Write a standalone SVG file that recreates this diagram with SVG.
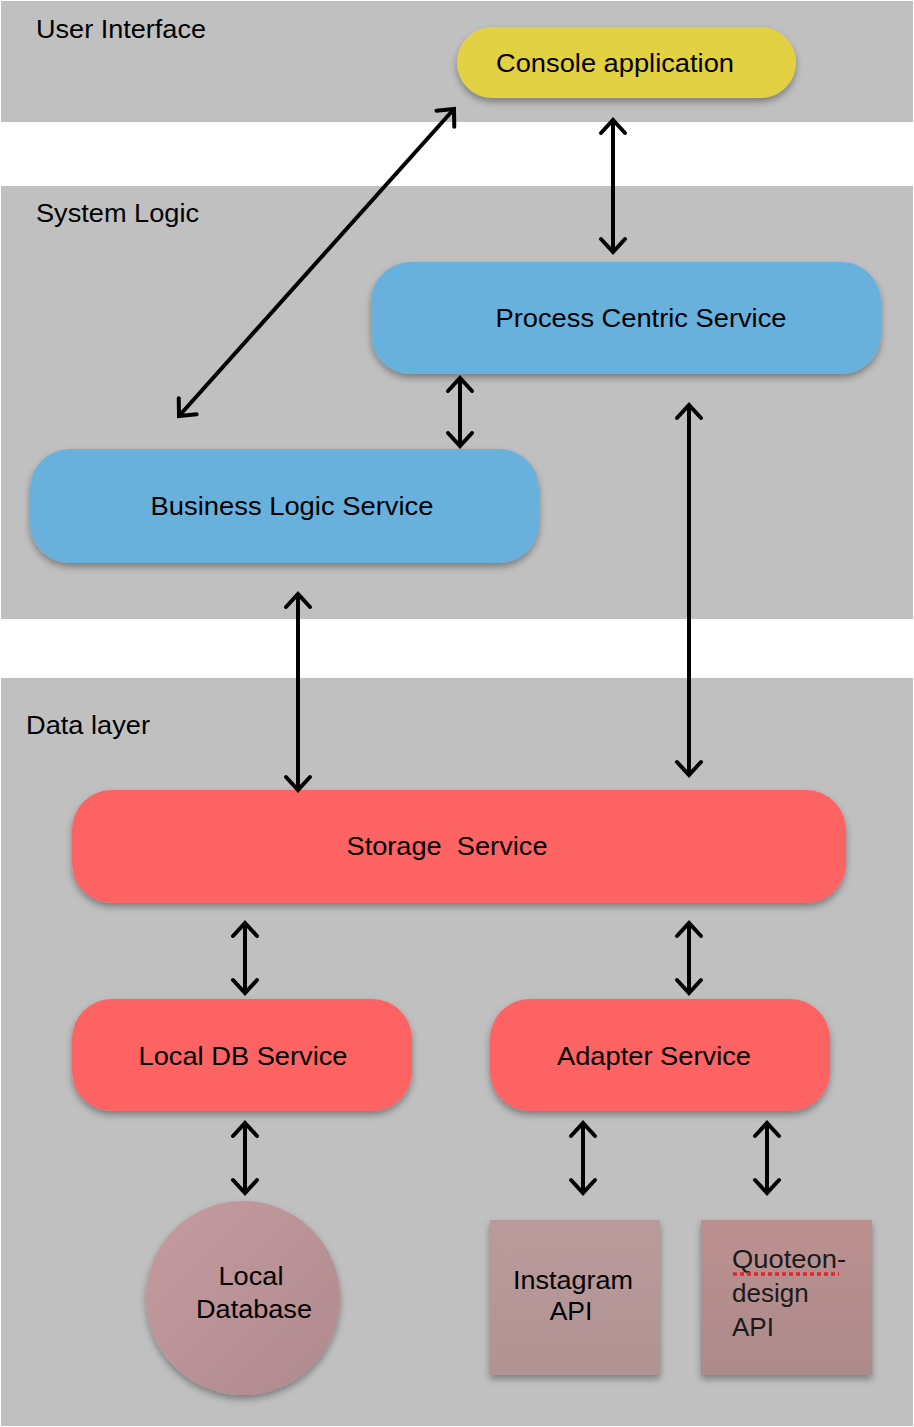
<svg xmlns="http://www.w3.org/2000/svg" width="914" height="1427" viewBox="0 0 914 1427">
<style>
.band{fill:#c0c0c0}
.lbl{font-family:"Liberation Sans",Arial,sans-serif;font-size:26.5px;fill:#000}
.t{font-family:"Liberation Sans",Arial,sans-serif;font-size:26.5px;fill:#000;text-anchor:middle}
.q{font-family:"Liberation Sans",Arial,sans-serif;font-size:26px;fill:#1a1a1a}
.blue{fill:#67b1dd}
.red{fill:#fd6363}
.conn{stroke:#000;stroke-width:4;fill:none;marker-start:url(#ah);marker-end:url(#ah)}
</style>
<defs>
<filter id="sh" x="-10%" y="-20%" width="120%" height="150%">
<feDropShadow dx="0" dy="4" stdDeviation="3.5" flood-color="#000" flood-opacity="0.35"/>
</filter>
<marker id="ah" markerUnits="userSpaceOnUse" viewBox="-20 -16 24 32" markerWidth="24" markerHeight="32" refX="0" refY="0" orient="auto-start-reverse" overflow="visible">
<path d="M-13,-12 L0,0 L-13,12" fill="none" stroke="#000" stroke-width="4" stroke-linecap="round"/>
</marker>
<linearGradient id="gcirc" x1="0" y1="0" x2="1" y2="1">
<stop offset="0" stop-color="#c49ba0"/>
<stop offset="1" stop-color="#b08a8e"/>
</linearGradient>
<linearGradient id="gins" x1="0" y1="0" x2="0" y2="1">
<stop offset="0" stop-color="#bb9a9b"/>
<stop offset="1" stop-color="#b19394"/>
</linearGradient>
<linearGradient id="gq" x1="0" y1="0" x2="0" y2="1">
<stop offset="0" stop-color="#bc9091"/>
<stop offset="1" stop-color="#ad8a8a"/>
</linearGradient>
</defs>

<g id="bands">
<rect class="band" x="1" y="1" width="912" height="121"/>
<rect class="band" x="1" y="186" width="912" height="433"/>
<rect class="band" x="1" y="678" width="912" height="748"/>
<text class="lbl" x="36" y="38" textLength="170" lengthAdjust="spacingAndGlyphs">User Interface</text>
<text class="lbl" x="36" y="222" textLength="163" lengthAdjust="spacingAndGlyphs">System Logic</text>
<text class="lbl" x="26" y="734" textLength="124" lengthAdjust="spacingAndGlyphs">Data layer</text>
</g>

<g id="console">
<rect x="457" y="27" width="339" height="71" rx="35.5" fill="#e2d143" filter="url(#sh)"/>
<text class="t" x="615" y="72" textLength="238" lengthAdjust="spacingAndGlyphs">Console application</text>
</g>

<g id="process">
<rect class="blue" x="371" y="262" width="510" height="112" rx="40" filter="url(#sh)"/>
<text class="t" x="641" y="327" textLength="291" lengthAdjust="spacingAndGlyphs">Process Centric Service</text>
</g>

<g id="business">
<rect class="blue" x="30" y="449" width="509" height="114" rx="40" filter="url(#sh)"/>
<text class="t" x="292" y="515" textLength="283" lengthAdjust="spacingAndGlyphs">Business Logic Service</text>
</g>

<g id="storage">
<rect class="red" x="72" y="790" width="774" height="113" rx="40" filter="url(#sh)"/>
<text class="t" x="447" y="855" xml:space="preserve" textLength="201" lengthAdjust="spacingAndGlyphs">Storage  Service</text>
</g>

<g id="localdbservice">
<rect class="red" x="72" y="999" width="340" height="112" rx="40" filter="url(#sh)"/>
<text class="t" x="243" y="1065" textLength="209" lengthAdjust="spacingAndGlyphs">Local DB Service</text>
</g>

<g id="adapter">
<rect class="red" x="490" y="999" width="340" height="112" rx="40" filter="url(#sh)"/>
<text class="t" x="654" y="1065" textLength="194" lengthAdjust="spacingAndGlyphs">Adapter Service</text>
</g>

<g id="localdatabase">
<circle cx="243" cy="1298" r="97" fill="url(#gcirc)" filter="url(#sh)"/>
<text class="t" x="251" y="1285" textLength="65" lengthAdjust="spacingAndGlyphs">Local</text>
<text class="t" x="254" y="1318" textLength="116" lengthAdjust="spacingAndGlyphs">Database</text>
</g>

<g id="instagram">
<rect x="490" y="1220" width="170" height="155" fill="url(#gins)" filter="url(#sh)"/>
<text class="t" x="573" y="1289" textLength="120" lengthAdjust="spacingAndGlyphs">Instagram</text>
<text class="t" x="571" y="1320">API</text>
</g>

<g id="quoteon">
<rect x="701" y="1220" width="171" height="155" fill="url(#gq)" filter="url(#sh)"/>
<text class="q" x="732" y="1268" textLength="114" lengthAdjust="spacingAndGlyphs">Quoteon-</text>
<text class="q" x="732" y="1302">design</text>
<text class="q" x="732" y="1336">API</text>
<line x1="733" y1="1274" x2="839" y2="1274" stroke="#e8202a" stroke-width="3.5" stroke-dasharray="4,3"/>
</g>

<g id="connectors">
<line class="conn" x1="613" y1="120" x2="613" y2="252"/>
<line class="conn" x1="454" y1="109" x2="179" y2="416"/>
<line class="conn" x1="460" y1="378" x2="460" y2="446"/>
<line class="conn" x1="298" y1="594" x2="298" y2="790"/>
<line class="conn" x1="689" y1="405" x2="689" y2="775"/>
<line class="conn" x1="245" y1="923" x2="245" y2="993"/>
<line class="conn" x1="689" y1="923" x2="689" y2="993"/>
<line class="conn" x1="245" y1="1123" x2="245" y2="1193"/>
<line class="conn" x1="583" y1="1123" x2="583" y2="1193"/>
<line class="conn" x1="767" y1="1123" x2="767" y2="1193"/>
</g>
</svg>
